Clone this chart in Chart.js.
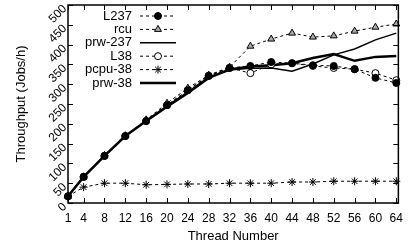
<!DOCTYPE html>
<html>
<head>
<meta charset="utf-8">
<script src="https://cdn.jsdelivr.net/npm/chart.js@4/dist/chart.umd.min.js"></script>
<style>
  html, body { margin: 0; padding: 0; background: #fff; }
  #wrap { width: 411px; height: 248px; }
</style>
</head>
<body>
<div id="wrap"><canvas id="myChart" width="411" height="248"></canvas></div>
<script>
// data
const threads = [1, 4, 8, 12, 16, 20, 24, 28, 32, 36, 40, 44, 48, 52, 56, 60, 64];
const xTicks = [1, 4, 8, 12, 16, 20, 24, 28, 32, 36, 40, 44, 48, 52, 56, 60, 64];

const L237   = [17, 66, 119, 169, 207, 247, 285, 321, 341, 346, 356, 353, 348, 346, 338, 316, 303];
const rcu    = [17, 66, 120, 170, 210, 252, 290, 323, 343, 396, 414, 429, 419, 422, 434, 444, 452];
const prw237 = [17, 66, 119, 169, 207, 245, 280, 318, 336, 340, 341, 333, 351, 374, 389, 412, 429];
const L38    = [17, 66, 119, 169, 207, 247, 285, 321, 341, 328, 350, 353, 346, 341, 338, 328, 310];
const pcpu38 = [17, 40, 50, 50, 46, 47, 48, 48, 50, 50, 50, 53, 53, 55, 55, 55, 55];
const prw38  = [17, 66, 119, 169, 207, 243, 278, 316, 337, 345, 348, 353, 366, 376, 359, 369, 371];

const FONT = 'Liberation Sans, Arial, sans-serif';

function pts(arr) {
  return arr.map((v, i) => ({ x: threads[i], y: v }));
}

const datasets = [
  { label: 'L237', data: pts(L237), borderColor: '#000', borderWidth: 1, borderDash: [3, 3],
    pointStyle: 'circle', pointRadius: 3.5, pointBackgroundColor: '#000', pointBorderColor: '#000', pointBorderWidth: 1 },
  { label: 'rcu', data: pts(rcu), borderColor: '#000', borderWidth: 1, borderDash: [3, 3],
    pointStyle: 'triangle', pointRadius: 4, pointBackgroundColor: '#aaa', pointBorderColor: '#000', pointBorderWidth: 1 },
  { label: 'prw-237', data: pts(prw237), borderColor: '#000', borderWidth: 1.5,
    pointRadius: 0 },
  { label: 'L38', data: pts(L38), borderColor: '#000', borderWidth: 1, borderDash: [3, 3],
    pointStyle: 'circle', pointRadius: 3.5, pointBackgroundColor: '#fff', pointBorderColor: '#000', pointBorderWidth: 1 },
  { label: 'pcpu-38', data: pts(pcpu38), borderColor: '#000', borderWidth: 1, borderDash: [3, 3],
    pointStyle: 'star', pointRadius: 4, pointBackgroundColor: '#000', pointBorderColor: '#000', pointBorderWidth: 1 },
  { label: 'prw-38', data: pts(prw38), borderColor: '#000', borderWidth: 2.5,
    pointRadius: 0 }
];
datasets.forEach(d => { d.fill = false; d.tension = 0; d.clip = false; });

// legend in the top-left of the plot, text right-aligned before the sample
const insideLegend = {
  id: 'insideLegend',
  afterDatasetsDraw(chart) {
    const ctx = chart.ctx;
    const ca = chart.chartArea;
    ctx.save();
    ctx.font = '13px ' + FONT;
    ctx.fillStyle = '#000';
    ctx.textAlign = 'right';
    ctx.textBaseline = 'middle';
    chart.data.datasets.forEach((ds, i) => {
      const y = ca.top + 11 + i * 13.4;
      const tx = ca.left + 64;
      ctx.fillText(ds.label, tx, y);
      const x0 = ca.left + 72, x1 = ca.left + 108;
      ctx.beginPath();
      ctx.setLineDash(ds.borderDash || []);
      ctx.lineWidth = ds.borderWidth;
      ctx.strokeStyle = '#000';
      ctx.moveTo(x0, y);
      ctx.lineTo(x1, y);
      ctx.stroke();
      ctx.setLineDash([]);
      if (ds.pointRadius > 0 && Chart.helpers && Chart.helpers.drawPoint) {
        ctx.fillStyle = ds.pointBackgroundColor;
        ctx.strokeStyle = ds.pointBorderColor;
        ctx.lineWidth = ds.pointBorderWidth;
        Chart.helpers.drawPoint(ctx, { pointStyle: ds.pointStyle, radius: ds.pointRadius, rotation: 0, borderWidth: 1 }, (x0 + x1) / 2, y);
        ctx.fillStyle = '#000';
      }
    });
    ctx.restore();
  }
};

// gnuplot style frame with inward ticks on all four sides, y labels at 45 degrees
const frame = {
  id: 'frame',
  afterDraw(chart) {
    const ctx = chart.ctx;
    const ca = chart.chartArea;
    const xs = chart.scales.x, ys = chart.scales.y;
    ctx.save();
    ctx.strokeStyle = '#000';
    ctx.lineWidth = 1;
    ctx.beginPath();
    xTicks.forEach(v => {
      const px = Math.round(xs.getPixelForValue(v)) + 0.5;
      ctx.moveTo(px, ca.bottom); ctx.lineTo(px, ca.bottom - 5);
      ctx.moveTo(px, ca.top); ctx.lineTo(px, ca.top + 5);
    });
    ys.ticks.forEach(t => {
      const py = Math.round(ys.getPixelForValue(t.value)) + 0.5;
      ctx.moveTo(ca.left, py); ctx.lineTo(ca.left + 5, py);
      ctx.moveTo(ca.right, py); ctx.lineTo(ca.right - 5, py);
    });
    ctx.stroke();
    ctx.lineWidth = 1.5;
    ctx.strokeRect(ca.left, ca.top, ca.right - ca.left, ca.bottom - ca.top);

    ctx.fillStyle = '#000';
    ctx.font = '12px ' + FONT;
    ctx.textAlign = 'right';
    ctx.textBaseline = 'middle';
    ys.ticks.forEach(t => {
      const py = ys.getPixelForValue(t.value);
      ctx.save();
      ctx.translate(ca.left - 3, py + 2);
      ctx.rotate(-Math.PI / 4);
      ctx.fillText(String(t.value), 0, 0);
      ctx.restore();
    });
    ctx.restore();
  }
};

new Chart(document.getElementById('myChart').getContext('2d'), {
  type: 'line',
  data: { datasets: datasets },
  options: {
    responsive: false,
    animation: false,
    layout: { padding: { top: 5, right: 7, left: 0, bottom: 0 } },
    plugins: { legend: { display: false }, tooltip: { enabled: false } },
    scales: {
      x: {
        type: 'linear',
        min: 1,
        max: 64.4,
        afterBuildTicks: s => { s.ticks = xTicks.map(v => ({ value: v })); },
        afterFit: s => { s.height = 45; },
        grid: { display: false, drawTicks: false },
        border: { display: false },
        ticks: { autoSkip: false, maxRotation: 0, padding: 8, color: '#000', font: { family: FONT, size: 12 } },
        title: { display: true, text: 'Thread Number', color: '#000', font: { family: FONT, size: 13 }, padding: { top: 2 } }
      },
      y: {
        min: 0,
        max: 500,
        afterFit: s => { s.width = 68; },
        grid: { display: false, drawTicks: false },
        border: { display: false },
        ticks: { display: false, stepSize: 50 },
        title: { display: true, text: 'Throughput (Jobs/h)', color: '#000', font: { family: FONT, size: 13 }, padding: { top: 14, bottom: 0 } }
      }
    }
  },
  plugins: [insideLegend, frame]
});
</script>
</body>
</html>
